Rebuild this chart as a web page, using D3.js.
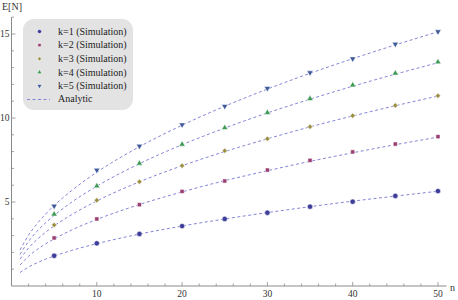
<!DOCTYPE html>
<html><head><meta charset="utf-8">
<script src="https://cdn.jsdelivr.net/npm/d3@7"></script>
<style>body{margin:0;background:#fff}svg{display:block}text{font-family:"Liberation Serif","Times New Roman",serif}</style>
</head><body>
<svg id="c" width="458" height="300"></svg>
<script>
const simN = [5,10,15,20,25,30,35,40,45,50];
const simK1 = [1.80,2.54,3.10,3.57,3.99,4.36,4.72,5.02,5.36,5.65];
const simK2 = [2.86,3.99,4.84,5.63,6.25,6.90,7.48,7.98,8.45,8.89];
const simK3 = [3.63,5.10,6.21,7.16,8.05,8.77,9.48,10.14,10.75,11.33];
const simK4 = [4.27,5.95,7.30,8.43,9.42,10.32,11.15,11.96,12.66,13.33];
const simK5 = [4.76,6.90,8.33,9.60,10.70,11.77,12.70,13.53,14.40,15.14];
const anaN = [1,2,3,4,5,7,10,15,20,25,30,35,40,45,50];
const anaK1 = [0.80,1.13,1.38,1.60,1.78,2.11,2.52,3.09,3.57,3.99,4.37,4.72,5.05,5.35,5.64];
const anaK2 = [1.25,1.77,2.17,2.51,2.80,3.32,3.96,4.85,5.60,6.27,6.86,7.42,7.93,8.41,8.86];
const anaK3 = [1.60,2.26,2.77,3.20,3.58,4.23,5.06,6.20,7.16,8.00,8.76,9.47,10.12,10.73,11.31];
const anaK4 = [1.88,2.66,3.26,3.76,4.20,4.97,5.94,7.28,8.41,9.40,10.30,11.12,11.89,12.61,13.29];
const anaK5 = [2.14,3.03,3.71,4.28,4.79,5.66,6.77,8.29,9.57,10.70,11.72,12.66,13.53,14.35,15.13];
const seriesNames = ["k=1 (Simulation)","k=2 (Simulation)","k=3 (Simulation)","k=4 (Simulation)","k=5 (Simulation)"];
const analyticName = "Analytic";
const xTicks = [10,20,30,40,50];
const yTicks = [5,10,15];

const colors = ["#3d3d99","#993d71","#998c3d","#3d9954","#3d5899"];
const symbols = [d3.symbolCircle,d3.symbolSquare,d3.symbolSquare,d3.symbolTriangle,d3.symbolTriangle];
const symSize = [22,17,15,17,17];
const symRot = [0,0,45,0,180];
const sims = [simK1,simK2,simK3,simK4,simK5];
const anas = [anaK1,anaK2,anaK3,anaK4,anaK5];

const svg = d3.select("#c");
const x = d3.scaleLinear().domain([0,51]).range([11.5,446.5]);
const y = d3.scaleLinear().domain([0,16]).range([286,17.2]);
const axisCol = "#8a8a8a";

// analytic curves
const line = d3.line().x(d=>x(d[0])).y(d=>y(d[1])).curve(d3.curveMonotoneX);
anas.forEach(a=>{
  svg.append("path").attr("d",line(anaN.map((n,i)=>[n,a[i]])))
    .attr("fill","none").attr("stroke","#8585d6").attr("stroke-width",1)
    .attr("stroke-dasharray","3,2.5");
});

// axes
const gx = svg.append("g").attr("transform",`translate(0,${y(0)})`);
gx.append("line").attr("x1",x(0)).attr("x2",x(51)).attr("stroke",axisCol);
d3.range(2,51,2).forEach(t=>{
  const major = t%10===0;
  gx.append("line").attr("x1",x(t)).attr("x2",x(t)).attr("y1",0).attr("y2",major?-4:-2.5).attr("stroke",axisCol).attr("stroke-width",0.8);
});
xTicks.forEach(t=>gx.append("text").attr("x",x(t)).attr("y",11).attr("text-anchor","middle").attr("font-size",9.5).attr("fill","#333").text(t));
gx.append("text").attr("x",450).attr("y",5).attr("font-size",10).attr("fill","#333").text("n");

const gy = svg.append("g").attr("transform",`translate(${x(0)},0)`);
gy.append("line").attr("y1",y(0)).attr("y2",y(16)).attr("stroke",axisCol);
d3.range(1,16.5,1).forEach(t=>{
  const major = t%5===0;
  gy.append("line").attr("y1",y(t)).attr("y2",y(t)).attr("x1",0).attr("x2",major?4:2.5).attr("stroke",axisCol).attr("stroke-width",0.8);
});
yTicks.forEach(t=>gy.append("text").attr("x",-2).attr("y",y(t)+3.3).attr("text-anchor","end").attr("font-size",9.5).attr("fill","#333").text(t));
svg.append("text").attr("x",2).attr("y",10).attr("font-size",10).attr("fill","#333").text("E[N]");

// markers
function marker(g,i,cx,cy,scale){
  const s = d3.symbol().type(symbols[i]).size(symSize[i]*scale*scale);
  g.append("path").attr("d",s()).attr("transform",`translate(${cx},${cy}) rotate(${symRot[i]})`)
    .attr("fill",colors[i]).attr("stroke","#fff").attr("stroke-opacity",0.55).attr("stroke-width",1);
}
sims.forEach((s,i)=>{
  const g = svg.append("g");
  simN.forEach((n,j)=>marker(g,i,x(n),y(s[j]),1));
});

// legend
const lg = svg.append("g");
lg.append("rect").attr("x",23).attr("y",19).attr("width",110).attr("height",91).attr("rx",11).attr("fill","#e3e3e3");
const rowY = i=>31.5+i*13.6;
seriesNames.forEach((nm,i)=>{
  marker(lg,i,39.5,rowY(i),0.8);
  lg.append("text").attr("x",58).attr("y",rowY(i)+3.3).attr("font-size",10).attr("fill","#222").text(nm);
});
lg.append("line").attr("x1",27).attr("x2",50).attr("y1",rowY(5)).attr("y2",rowY(5)).attr("stroke","#8585d6").attr("stroke-dasharray","3,2.5");
lg.append("text").attr("x",58).attr("y",rowY(5)+2.3).attr("font-size",10).attr("fill","#222").text(analyticName);
</script>
</body></html>
